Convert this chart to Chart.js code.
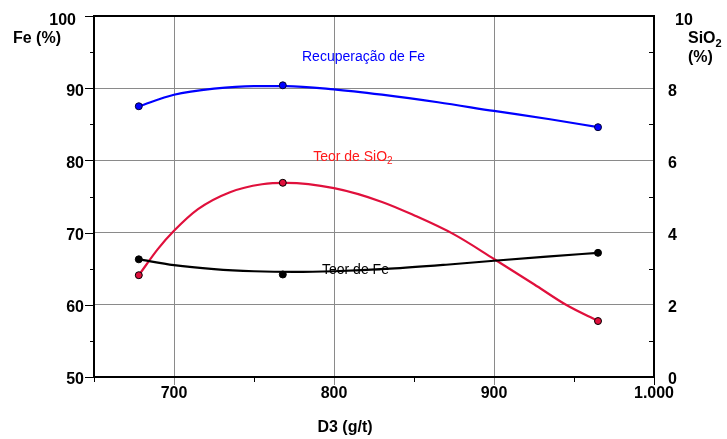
<!DOCTYPE html>
<html>
<head>
<meta charset="utf-8">
<script src="https://cdn.jsdelivr.net/npm/chart.js@4.4.1/dist/chart.umd.min.js"></script>
<style>
  html, body { margin: 0; padding: 0; background: #fff; }
  #wrap { width: 727px; height: 439px; }
</style>
</head>
<body>
<div id="wrap"><canvas id="myChart" width="727" height="439"></canvas></div>
<script>
(function () {
    "use strict";

    // measured points (D3 dosage, g/t)
    const d3Points = [678, 768, 965];
    const recFePoints = [87.5, 90.4, 84.6];     // Recuperação de Fe (%)
    const teorFePoints = [66.3, 64.2, 67.2];    // Teor de Fe (%)
    const teorSiO2Points = [2.82, 5.38, 1.55];  // Teor de SiO2 (%)

    // fitted curves
    const recFeCurveX = [678, 700, 725, 750, 770, 800, 830, 865, 900, 935, 965];
    const recFeCurve = [87.5, 89.1, 89.95, 90.3, 90.3, 89.85, 89.1, 88.05, 86.85, 85.7, 84.6];

    const teorFeCurveX = [678, 700, 725, 750, 775, 800, 835, 870, 900, 935, 965];
    const teorFeCurve = [66.3, 65.5, 64.95, 64.65, 64.55, 64.65, 65.0, 65.55, 66.1, 66.7, 67.2];

    const siO2CurveX = [678, 690, 700, 715, 735, 755, 770, 800, 830, 850, 875, 900, 925, 945, 965];
    const siO2Curve = [2.82, 3.55, 4.05, 4.65, 5.12, 5.34, 5.38, 5.23, 4.85, 4.48, 3.95, 3.27, 2.57, 2.0, 1.55];

    // tick labels
    const d3Ticks = [700, 800, 900, 1000];
    const d3Labels = ['700', '800', '900', '1.000'];
    const feTicks = [50, 60, 70, 80, 90, 100];
    const sio2Ticks = [0, 2, 4, 6, 8, 10];

    const FONT = "'Liberation Sans', Arial, sans-serif";
    const BLUE = '#0000ff';
    const RED = '#e0103c';

    function pairs(xs, ys) {
        return xs.map(function (x, i) { return { x: x, y: ys[i] }; });
    }

    function line(ctx, x1, y1, x2, y2) {
        ctx.beginPath();
        ctx.moveTo(x1, y1);
        ctx.lineTo(x2, y2);
        ctx.stroke();
    }

    const decor = {
        id: 'decor',
        beforeDatasetsDraw: function (chart) {
            const ctx = chart.ctx, a = chart.chartArea;
            const sx = chart.scales.x, sy = chart.scales.y, sy2 = chart.scales.y2;
            ctx.save();
            ctx.lineWidth = 1;

            // left axis ticks (outside)
            sy.ticks.forEach(function (t) {
                const py = Math.round(sy.getPixelForValue(t.value)) + 0.5;
                ctx.strokeStyle = '#000';
                line(ctx, a.left - (feTicks.includes(t.value) ? 9 : 4), py, a.left, py);
            });
            // right axis minor ticks (inside)
            sy2.ticks.forEach(function (t) {
                if (sio2Ticks.includes(t.value)) return;
                const py = Math.round(sy2.getPixelForValue(t.value)) + 0.5;
                ctx.strokeStyle = '#000';
                line(ctx, a.right - 5, py, a.right, py);
            });
            // bottom ticks
            sx.ticks.forEach(function (t) {
                const px = Math.round(sx.getPixelForValue(t.value)) + 0.5;
                const major = d3Ticks.includes(t.value);
                ctx.strokeStyle = (major && t.value !== 1000) ? '#8a8a8a' : '#000';
                line(ctx, px, a.bottom, px, a.bottom + (major ? 8 : 5));
            });

            // frame
            ctx.lineWidth = 2;
            ctx.strokeStyle = '#000';
            ctx.strokeRect(a.left, a.top, a.right - a.left, a.bottom - a.top);

            // series captions
            ctx.font = '14px ' + FONT;
            ctx.textBaseline = 'middle';
            ctx.textAlign = 'left';
            ctx.fillStyle = BLUE;
            ctx.fillText('Recuperação de Fe', sx.getPixelForValue(780), sy.getPixelForValue(94.25));

            ctx.fillStyle = '#ff1a1a';
            const sxp = sx.getPixelForValue(787), syp = sy2.getPixelForValue(6.1);
            ctx.fillText('Teor de SiO', sxp, syp);
            const w = ctx.measureText('Teor de SiO').width;
            ctx.font = '10px ' + FONT;
            ctx.fillText('2', sxp + w, syp + 4);

            ctx.font = '14px ' + FONT;
            ctx.fillStyle = '#000';
            ctx.fillText('Teor de Fe', sx.getPixelForValue(792.5), sy.getPixelForValue(64.85));
            ctx.restore();
        },
        afterDraw: function (chart) {
            const ctx = chart.ctx, a = chart.chartArea;
            const sy = chart.scales.y, sy2 = chart.scales.y2;
            ctx.save();
            ctx.fillStyle = '#000';
            ctx.font = 'bold 16px ' + FONT;
            ctx.textBaseline = 'middle';

            ctx.textAlign = 'right';
            ctx.fillText('100', a.left - 18, sy.getPixelForValue(100) + 5);
            ctx.textAlign = 'left';
            ctx.fillText('Fe (%)', 13, 39);

            ctx.fillText('10', a.right + 21, sy2.getPixelForValue(10) + 5);
            ctx.fillText('SiO', 688, 39);
            const w = ctx.measureText('SiO').width;
            ctx.font = 'bold 11px ' + FONT;
            ctx.fillText('2', 688 + w, 44);
            ctx.font = 'bold 16px ' + FONT;
            ctx.fillText('(%)', 688, 58);

            ctx.textAlign = 'center';
            ctx.fillText('D3 (g/t)', 345, 428);
            ctx.restore();
        }
    };

    const ctx = document.getElementById('myChart').getContext('2d');

    new Chart(ctx, {
        type: 'scatter',
        data: {
            datasets: [
                {
                    label: 'Recuperação de Fe pts',
                    data: pairs(d3Points, recFePoints),
                    yAxisID: 'y',
                    pointRadius: 3.5,
                    pointBackgroundColor: BLUE,
                    pointBorderColor: '#000033',
                    pointBorderWidth: 1
                },
                {
                    label: 'Teor de Fe pts',
                    data: pairs(d3Points, teorFePoints),
                    yAxisID: 'y',
                    pointRadius: 3.5,
                    pointBackgroundColor: '#000',
                    pointBorderColor: '#000',
                    pointBorderWidth: 1
                },
                {
                    label: 'Teor de SiO2 pts',
                    data: pairs(d3Points, teorSiO2Points),
                    yAxisID: 'y2',
                    pointRadius: 3.5,
                    pointBackgroundColor: RED,
                    pointBorderColor: '#000',
                    pointBorderWidth: 1
                },
                {
                    label: 'Recuperação de Fe',
                    data: pairs(recFeCurveX, recFeCurve),
                    yAxisID: 'y',
                    showLine: true,
                    cubicInterpolationMode: 'monotone',
                    borderColor: BLUE,
                    borderWidth: 2.2,
                    pointRadius: 0
                },
                {
                    label: 'Teor de Fe',
                    data: pairs(teorFeCurveX, teorFeCurve),
                    yAxisID: 'y',
                    showLine: true,
                    cubicInterpolationMode: 'monotone',
                    borderColor: '#000',
                    borderWidth: 2.2,
                    pointRadius: 0
                },
                {
                    label: 'Teor de SiO2',
                    data: pairs(siO2CurveX, siO2Curve),
                    yAxisID: 'y2',
                    showLine: true,
                    cubicInterpolationMode: 'monotone',
                    borderColor: RED,
                    borderWidth: 2.2,
                    pointRadius: 0
                }
            ]
        },
        options: {
            responsive: false,
            animation: false,
            layout: { padding: { top: 16, left: 0, right: 0, bottom: 0 } },
            plugins: {
                legend: { display: false },
                tooltip: { enabled: false }
            },
            scales: {
                x: {
                    type: 'linear',
                    min: 650,
                    max: 1000,
                    afterFit: function (scale) {
                        scale.height = 62;
                        scale.paddingLeft = 0;
                        scale.paddingRight = 0;
                    },
                    border: { display: false },
                    grid: {
                        drawTicks: false,
                        lineWidth: 1,
                        color: function (c) {
                            const v = c.tick && c.tick.value;
                            return (v === 700 || v === 800 || v === 900) ? '#8a8a8a' : 'rgba(0,0,0,0)';
                        }
                    },
                    ticks: {
                        stepSize: 50,
                        autoSkip: false,
                        maxRotation: 0,
                        padding: 7,
                        color: '#000',
                        font: { family: FONT, size: 16, weight: 'bold' },
                        callback: function (v) {
                            const i = d3Ticks.indexOf(v);
                            return i >= 0 ? d3Labels[i] : '';
                        }
                    }
                },
                y: {
                    position: 'left',
                    min: 50,
                    max: 100,
                    afterFit: function (scale) {
                        scale.width = 94;
                        scale.paddingTop = 0;
                        scale.paddingBottom = 0;
                    },
                    border: { display: false },
                    grid: {
                        drawTicks: false,
                        lineWidth: 1,
                        color: function (c) {
                            const v = c.tick && c.tick.value;
                            return (v > 50 && v < 100 && v % 10 === 0) ? '#8a8a8a' : 'rgba(0,0,0,0)';
                        }
                    },
                    ticks: {
                        stepSize: 5,
                        autoSkip: false,
                        padding: 10,
                        labelOffset: 3,
                        color: '#000',
                        font: { family: FONT, size: 16, weight: 'bold' },
                        callback: function (v) {
                            return (feTicks.includes(v) && v !== 100) ? String(v) : '';
                        }
                    }
                },
                y2: {
                    position: 'right',
                    min: 0,
                    max: 10,
                    afterFit: function (scale) {
                        scale.width = 73;
                        scale.paddingTop = 0;
                        scale.paddingBottom = 0;
                    },
                    border: { display: false },
                    grid: { display: false, drawTicks: false },
                    ticks: {
                        stepSize: 1,
                        autoSkip: false,
                        padding: 14,
                        labelOffset: 3,
                        color: '#000',
                        font: { family: FONT, size: 16, weight: 'bold' },
                        callback: function (v) {
                            return (sio2Ticks.includes(v) && v !== 10) ? String(v) : '';
                        }
                    }
                }
            }
        },
        plugins: [decor]
    });
})();
</script>
</body>
</html>
